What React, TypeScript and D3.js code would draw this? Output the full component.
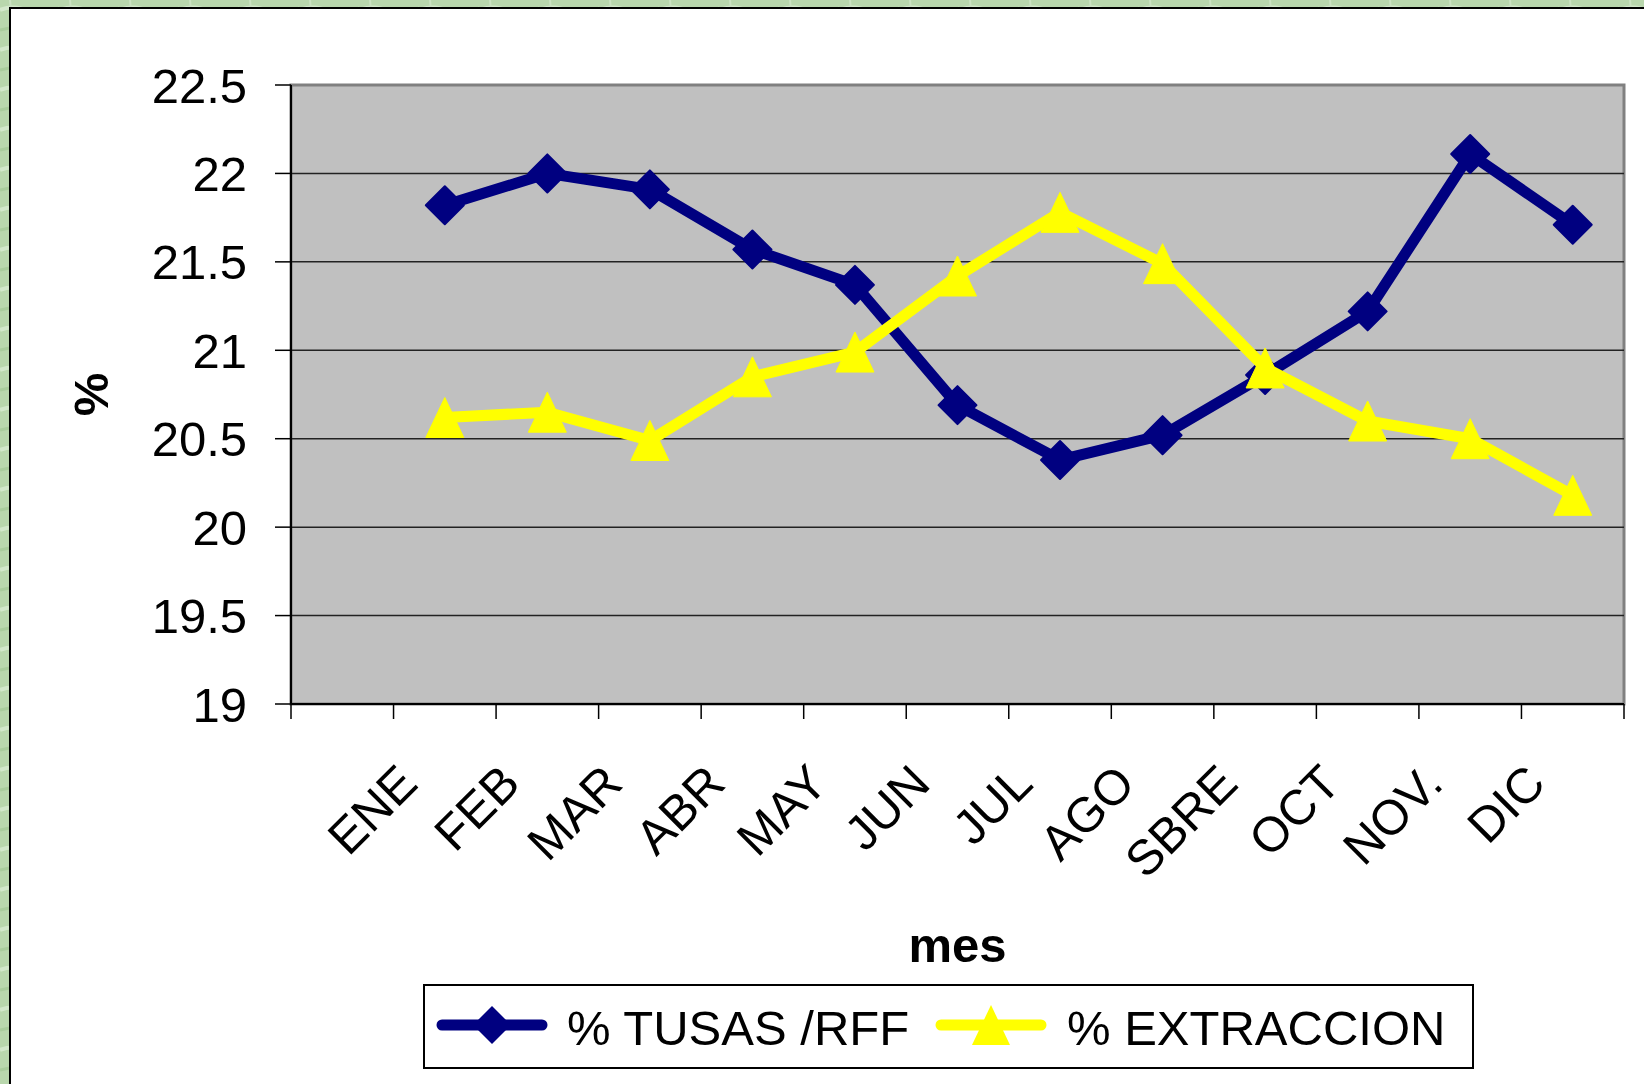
import React from "react";
import * as d3 from "d3";

// monthly values
const months = ["ENE", "FEB", "MAR", "ABR", "MAY", "JUN", "JUL", "AGO", "SBRE", "OCT", "NOV.", "DIC"];
const tusas = [21.82, 22.0, 21.91, 21.57, 21.37, 20.69, 20.38, 20.52, 20.86, 21.22, 22.11, 21.71];
const extraccion = [20.62, 20.65, 20.49, 20.85, 20.99, 21.42, 21.78, 21.49, 20.9, 20.6, 20.5, 20.18];
const yTicks = [19, 19.5, 20, 20.5, 21, 21.5, 22, 22.5];
const seriesNames = ["% TUSAS /RFF", "% EXTRACCION"];

const W = 1644;
const H = 1084;
const plot = { left: 291, top: 85, right: 1624, bottom: 704 };
const FONT = "'Liberation Sans', Arial, sans-serif";
const BLUE = "#000080";
const YELLOW = "#FFFF00";

// diamond and triangle markers like the Excel ones
const diamond = (r: number) => `M0,${-r}L${r},0L0,${r}L${-r},0Z`;
const triangle = (w: number, h: number) => `M0,${-h / 2}L${w / 2},${h / 2}L${-w / 2},${h / 2}Z`;

const App = () => {
  // 13 slots: the data sits in slots 2..13, the first one is empty
  const x = d3
    .scaleBand<string>()
    .domain(["", ...months])
    .range([plot.left, plot.right])
    .padding(0);
  const bw = x.bandwidth();
  const cx = (i: number) => (x(months[i]) as number) + bw / 2;

  const y = d3.scaleLinear().domain([19, 22.5]).range([plot.bottom, plot.top]);

  const line = d3
    .line<number>()
    .x((_, i) => cx(i))
    .y((d) => y(d));

  const tickXs = [...x.domain().map((d) => x(d) as number), plot.right];

  return (
    <svg
      width={W}
      height={H}
      style={{ position: "absolute", left: 0, top: 0, display: "block" }}
      fontFamily={FONT}
    >
      <defs>
        {/* rough marble-ish texture for the slide background */}
        <pattern id="bg" width={60} height={40} patternUnits="userSpaceOnUse">
          <rect width={60} height={40} fill="#b9d7ad" />
          <path d="M0,10 Q15,4 30,12 T60,8" stroke="#d3e8cb" strokeWidth={4} fill="none" />
          <path d="M0,30 Q20,24 35,32 T60,28" stroke="#a9cc9c" strokeWidth={3} fill="none" />
          <path d="M10,0 L14,40" stroke="#cce3c3" strokeWidth={2} fill="none" />
        </pattern>
      </defs>

      {/* slide background */}
      <rect x={0} y={0} width={W} height={H} fill="url(#bg)" />
      <rect x={10} y={8} width={W} height={H} fill="#ffffff" stroke="#000" strokeWidth={2} />

      {/* plot area */}
      <rect
        x={plot.left}
        y={plot.top}
        width={plot.right - plot.left}
        height={plot.bottom - plot.top}
        fill="#c0c0c0"
        stroke="#808080"
        strokeWidth={3}
      />

      {/* gridlines + y axis */}
      {yTicks.map((t) => (
        <g key={t}>
          {t > 19 && t < 22.5 && (
            <line x1={plot.left} x2={plot.right} y1={y(t)} y2={y(t)} stroke="#222" strokeWidth={1.5} />
          )}
          <line x1={plot.left - 16} x2={plot.left} y1={y(t)} y2={y(t)} stroke="#000" strokeWidth={1.5} />
          <text x={247} y={y(t)} dy="0.36em" textAnchor="end" fontSize={49} fill="#000">
            {String(t)}
          </text>
        </g>
      ))}
      <line x1={plot.left} x2={plot.left} y1={plot.top} y2={plot.bottom} stroke="#000" strokeWidth={2} />

      {/* x axis */}
      <line x1={plot.left} x2={plot.right} y1={plot.bottom} y2={plot.bottom} stroke="#000" strokeWidth={2} />
      {tickXs.map((tx, i) => (
        <line key={i} x1={tx} x2={tx} y1={plot.bottom} y2={plot.bottom + 15} stroke="#000" strokeWidth={1.5} />
      ))}
      {months.map((m, i) => (
        <text
          key={m}
          transform={`translate(${cx(i) - 25},${786}) rotate(-45)`}
          textAnchor="end"
          fontSize={49}
          fill="#000"
        >
          {m}
        </text>
      ))}

      {/* axis titles */}
      <text
        transform={`translate(108,${(plot.top + plot.bottom) / 2}) rotate(-90)`}
        textAnchor="middle"
        fontSize={49}
        fontWeight="bold"
      >
        %
      </text>
      <text x={(plot.left + plot.right) / 2} y={962} textAnchor="middle" fontSize={49} fontWeight="bold">
        mes
      </text>

      {/* series 1 */}
      <path d={line(tusas) as string} fill="none" stroke={BLUE} strokeWidth={11} strokeLinejoin="round" />
      {tusas.map((v, i) => (
        <path
          key={i}
          d={diamond(19)}
          transform={`translate(${cx(i)},${y(v)})`}
          fill={BLUE}
          stroke={BLUE}
          strokeWidth={2}
          strokeLinejoin="round"
        />
      ))}

      {/* series 2 */}
      <path d={line(extraccion) as string} fill="none" stroke={YELLOW} strokeWidth={11} strokeLinejoin="round" />
      {extraccion.map((v, i) => (
        <path
          key={i}
          d={triangle(38, 40)}
          transform={`translate(${cx(i)},${y(v)})`}
          fill={YELLOW}
          stroke={YELLOW}
          strokeWidth={1}
          strokeLinejoin="round"
        />
      ))}

      {/* legend */}
      <rect x={424} y={985} width={1049} height={83} fill="#fff" stroke="#000" strokeWidth={2} />
      <line x1={442} x2={542} y1={1025} y2={1025} stroke={BLUE} strokeWidth={11} strokeLinecap="round" />
      <path d={diamond(19)} transform="translate(492,1025)" fill={BLUE} />
      <text x={567} y={1045} fontSize={49} fill="#000">
        {seriesNames[0]}
      </text>
      <line x1={941} x2={1041} y1={1025} y2={1025} stroke={YELLOW} strokeWidth={11} strokeLinecap="round" />
      <path d={triangle(38, 40)} transform="translate(991,1025)" fill={YELLOW} />
      <text x={1067} y={1045} fontSize={49} fill="#000">
        {seriesNames[1]}
      </text>
    </svg>
  );
};

export default App;
